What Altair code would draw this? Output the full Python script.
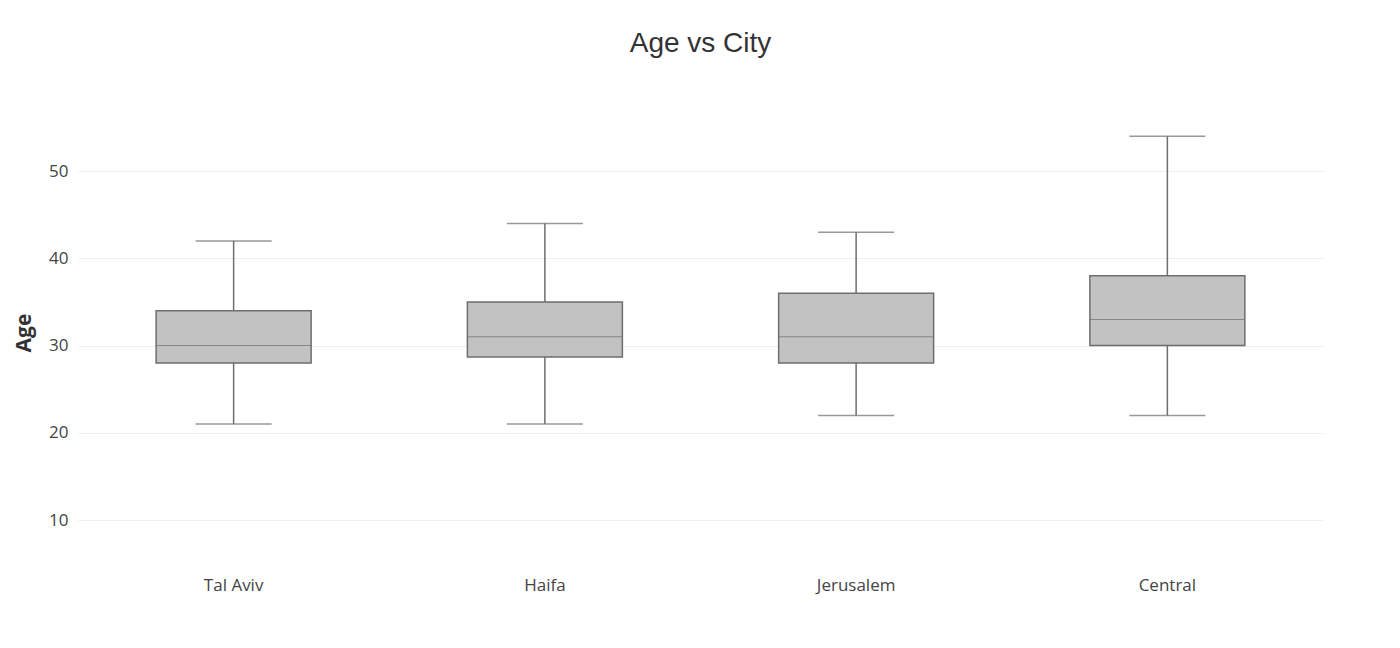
import altair as alt
import pandas as pd

cities = ["Tal Aviv", "Haifa", "Jerusalem", "Central"]
mins = [21, 21, 22, 22]
q1s = [28, 28.7, 28, 30]
medians = [30, 31, 31, 33]
q3s = [34, 35, 36, 38]
maxs = [42, 44, 43, 54]

df = pd.DataFrame({"city": cities, "min": mins, "q1": q1s, "median": medians, "q3": q3s, "max": maxs})

x = alt.X("city:N", sort=cities, title=None,
          scale=alt.Scale(paddingInner=0, paddingOuter=0),
          axis=alt.Axis(labelAngle=0, ticks=False, domain=False, labelPadding=22,
                        labelFont="Open Sans", labelFontSize=17, labelColor="#444"))
ysc = alt.Scale(domain=[6, 57], nice=False, zero=False)
yax = alt.Axis(values=[10, 20, 30, 40, 50], ticks=False, domain=False, gridColor="#eeeeee",
               labelFont="Open Sans", labelFontSize=17, labelColor="#444", labelPadding=10,
               titleFont="Open Sans", titleFontSize=21, titleFontWeight="bold", titleColor="#333",
               titlePadding=14)

base = alt.Chart(df).encode(x=x)
grey = "#6e6e6e"
whisk = base.mark_rule(color=grey, strokeWidth=1.5).encode(
    y=alt.Y("min:Q", scale=ysc, axis=yax, title="Age"), y2="max:Q")
box = base.mark_bar(size=155, color="#c2c2c2", stroke=grey, strokeWidth=1.5).encode(
    y="q1:Q", y2="q3:Q")
med = base.mark_tick(size=155, color=grey, thickness=1).encode(y="median:Q")
capl = base.mark_tick(size=76, color=grey, thickness=1.5).encode(y="min:Q")
caph = base.mark_tick(size=76, color=grey, thickness=1.5).encode(y="max:Q")

chart = (whisk + box + med + capl + caph).properties(
    width=1245, height=445,
    title=alt.TitleParams("Age vs City", font="Liberation Sans", fontSize=28, fontWeight="normal",
                          color="#333", offset=52, anchor="middle"),
    autosize=alt.AutoSizeParams(type="none"),
    padding={"left": 70, "top": 102, "right": 60, "bottom": 80},
).configure_view(stroke=None)

chart.save("out.html", embed_options={"renderer": "svg", "actions": False})
